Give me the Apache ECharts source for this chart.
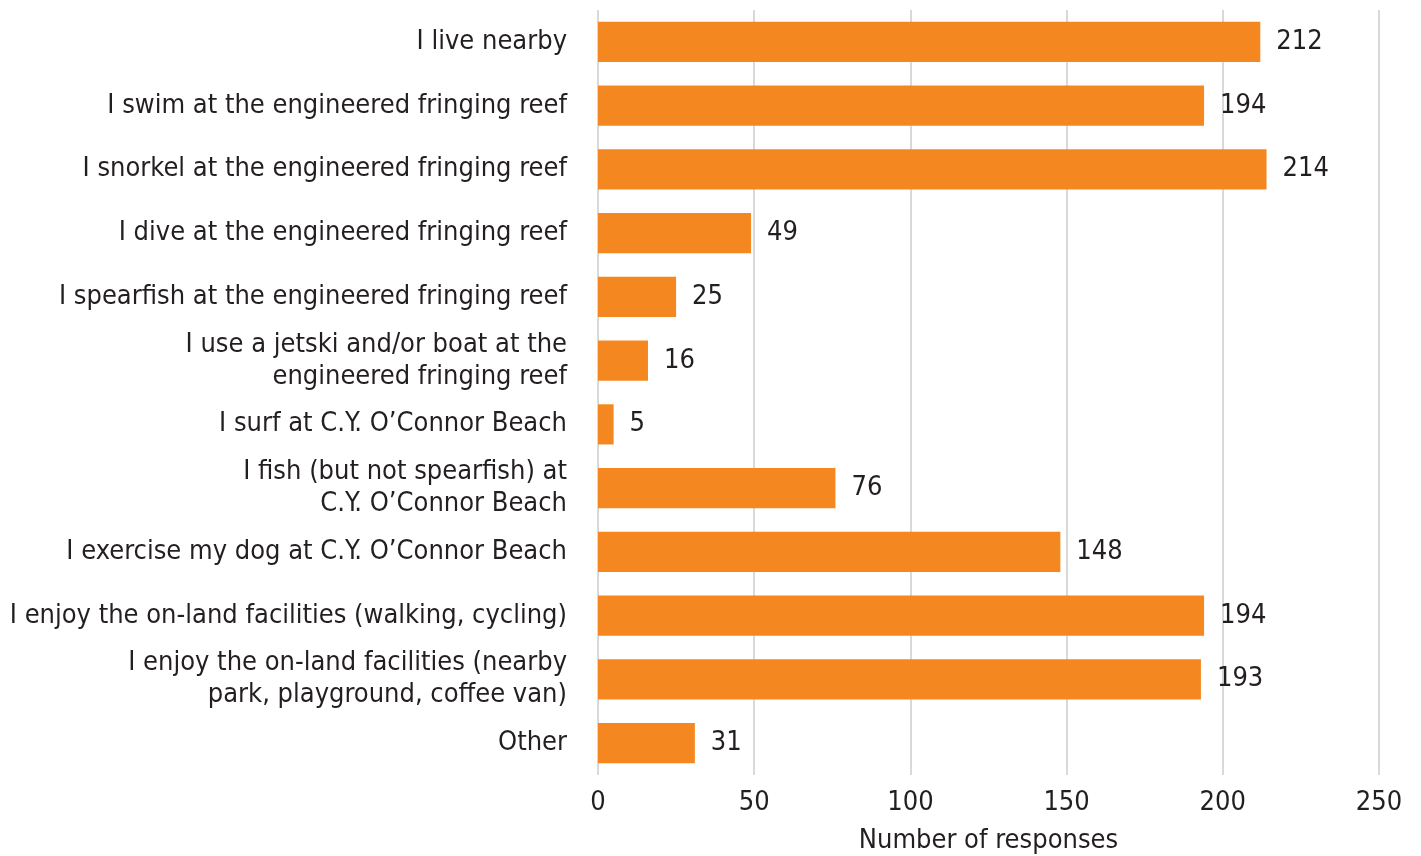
<!DOCTYPE html>
<html>
<head>
<meta charset="utf-8">
<script src="https://cdn.jsdelivr.net/npm/echarts@6/dist/echarts.min.js"></script>
<style>
  html, body { margin: 0; padding: 0; background: #fff; }
  #chart { width: 1421px; height: 856px; }
</style>
</head>
<body>
<div id="chart"></div>
<script>
const categories = [
  'I live nearby',
  'I swim at the engineered fringing reef',
  'I snorkel at the engineered fringing reef',
  'I dive at the engineered fringing reef',
  'I spearfish at the engineered fringing reef',
  'I use a jetski and/or boat at the\nengineered fringing reef',
  'I surf at C.Y. O\u2019Connor Beach',
  'I fish (but not spearfish) at\nC.Y. O\u2019Connor Beach',
  'I exercise my dog at C.Y. O\u2019Connor Beach',
  'I enjoy the on-land facilities (walking, cycling)',
  'I enjoy the on-land facilities (nearby\npark, playground, coffee van)',
  'Other'
]
const responses = [212, 194, 214, 49, 25, 16, 5, 76, 148, 194, 193, 31]
const xTicks = [0, 50, 100, 150, 200, 250]

const FONT = '"Liberation Sans Narrow", "DejaVu Sans Condensed", sans-serif'
const TEXT_COLOR = '#231f20'
const BAR_COLOR = '#f58720'
const GRID_COLOR = '#d9d9d9'

const chart = echarts.init(document.getElementById('chart'), null, { renderer: 'canvas' })

chart.setOption({
  backgroundColor: '#fff',
  animation: false,
  textStyle: { fontFamily: FONT, color: TEXT_COLOR },
  grid: { left: 598, right: 42, top: 10, bottom: 81, outerBoundsMode: 'none' },
  xAxis: {
    type: 'value',
    min: xTicks[0],
    max: xTicks[xTicks.length - 1],
    interval: 50,
    name: 'Number of responses',
    nameLocation: 'middle',
    nameGap: 52,
    nameTextStyle: { fontFamily: FONT, fontSize: 27, color: TEXT_COLOR },
    axisLine: { show: false },
    axisTick: { show: false },
    axisLabel: { fontFamily: FONT, fontSize: 27, color: TEXT_COLOR, margin: 14 },
    splitLine: { show: true, lineStyle: { color: GRID_COLOR, width: 2 } }
  },
  yAxis: {
    type: 'category',
    data: categories,
    inverse: true,
    axisLine: { show: false },
    axisTick: { show: false },
    axisLabel: {
      fontFamily: FONT,
      fontSize: 27,
      color: TEXT_COLOR,
      margin: 31,
      lineHeight: 32,
      align: 'right'
    }
  },
  series: [
    {
      type: 'bar',
      data: responses,
      barCategoryGap: '37%',
      itemStyle: { color: BAR_COLOR },
      label: {
        show: true,
        position: 'right',
        distance: 16,
        fontFamily: FONT,
        fontSize: 27,
        color: TEXT_COLOR
      }
    }
  ]
})
</script>
</body>
</html>
